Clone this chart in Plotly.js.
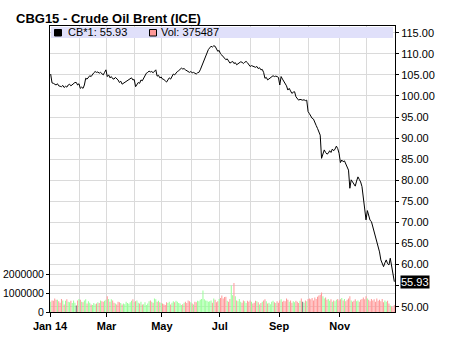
<!DOCTYPE html>
<html>
<head>
<meta charset="utf-8">
<script src="https://cdn.plot.ly/plotly-3.0.1.min.js"></script>
<style>html,body{margin:0;padding:0;background:#fff;}#chart{width:449px;height:337px;}</style>
</head>
<body>
<div id="chart"></div>
<script>
// Daily closes, CBG15 (Feb 2015 Brent), trading days of 2014, by month
const closeJan = [105.2,103.1,103.0,102.7,102.6,102.9,102.4,102.3,102.2,102.5,102.0,102.3,102.1,102.6,102.8,102.4,102.7,103.0,103.2,103.2,102.6,102.9];
const closeFeb = [101.8,102.1,101.8,102.6,104.2,104.0,104.5,104.8,104.6,105.2,105.5,105.8,105.6,105.7,105.4,105.6,105.3,105.0,105.6,106.2];
const closeMar = [104.6,105.0,104.3,104.6,104.1,104.0,104.4,104.2,103.8,103.2,103.5,102.8,103.0,103.2,103.4,103.6,103.9,104.0,104.3,103.8,103.9];
const closeApr = [102.2,102.8,103.2,103.0,103.8,103.6,104.2,105.0,105.4,105.6,105.9,105.7,105.8,105.5,105.9,106.2,104.7,104.9,104.3,104.5];
const closeMay = [104.0,103.9,103.6,103.3,103.8,104.3,104.0,104.6,105.2,105.0,105.5,105.8,106.0,106.3,106.6,106.4,106.5,106.2,106.0,105.9,105.6,105.8];
const closeJun = [105.5,105.6,105.4,105.2,105.5,105.6,106.2,107.0,108.2,108.9,109.4,110.2,111.0,111.4,111.8,111.6,111.9,111.8,111.2,110.6,110.8];
const closeJul = [110.0,109.7,109.4,109.0,108.6,108.8,108.3,107.8,108.0,108.2,107.7,107.9,107.4,107.6,107.8,108.1,108.0,107.7,108.0,108.2,107.9,107.5,107.0];
const closeAug = [107.2,107.1,107.0,106.8,107.0,106.5,106.7,106.2,106.3,105.6,104.2,104.4,103.8,104.0,104.3,104.5,104.8,104.6,104.7,104.6,104.4];
const closeSep = [102.6,104.6,104.0,103.5,103.0,102.4,101.4,101.8,101.2,100.6,100.9,101.0,99.8,99.5,99.0,99.2,99.0,99.0,99.1,98.9,99.0,96.3];
const closeOct = [95.8,95.2,94.7,94.5,93.9,93.0,92.3,91.5,90.7,85.2,86.0,87.2,86.6,86.2,86.4,87.0,86.6,87.4,87.0,87.4,88.1,87.5,86.4];
const closeNov = [84.2,84.8,84.4,84.6,83.8,83.2,82.4,78.1,80.1,79.6,79.2,78.6,79.8,80.8,80.2,79.6,78.5,76.0,74.5,70.6];
const closeDec = [72.8,71.6,70.5,70.2,69.0,67.8,67.0,65.8,64.6,63.0,61.1,60.2,59.5,60.4,61.1,60.2,59.9,61.5,59.5,57.9,55.93];

// Daily volume, in contracts
const volJan = [550000,620000,600000,720000,650000,660000,580000,500000,700000,620000,400000,600000,680000,550000,520000,600000,480000,620000,500000,350000,620000,700000];
const volFeb = [660000,550000,520000,620000,680000,450000,580000,500000,400000,380000,480000,420000,450000,520000,480000,620000,580000,550000,600000,660000];
const volMar = [850000,700000,550000,680000,620000,500000,450000,400000,550000,520000,480000,400000,450000,420000,550000,480000,440000,520000,600000,680000,520000];
const volApr = [580000,620000,500000,450000,550000,400000,420000,520000,380000,450000,580000,620000,550000,500000,720000,680000,550000,600000,520000,480000];
const volMay = [450000,420000,380000,520000,480000,550000,400000,500000,580000,520000,600000,550000,480000,450000,380000,420000,500000,550000,480000,620000,580000,520000];
const volJun = [450000,400000,550000,520000,600000,580000,650000,700000,1150000,680000,620000,600000,550000,580000,620000,500000,720000,650000,520000,580000,700000];
const volJul = [750000,880000,720000,800000,820000,600000,550000,700000,1420000,900000,1550000,850000,620000,580000,700000,550000,500000,620000,580000,480000,600000,550000,620000];
const volAug = [550000,450000,500000,600000,580000,520000,400000,480000,550000,620000,680000,580000,450000,500000,420000,550000,600000,520000,480000,580000,500000];
const volSep = [620000,680000,550000,600000,580000,720000,650000,550000,620000,500000,580000,520000,600000,550000,480000,600000,720000,550000,500000,620000,580000,700000];
const volOct = [720000,680000,750000,620000,780000,700000,820000,880000,920000,1050000,850000,720000,780000,650000,700000,600000,680000,550000,620000,580000,650000,700000,620000];
const volNov = [680000,750000,620000,700000,580000,650000,720000,850000,620000,550000,600000,680000,580000,620000,550000,650000,700000,780000,680000,850000];
const volDec = [720000,650000,580000,700000,620000,680000,550000,720000,600000,650000,580000,700000,520000,620000,550000,600000,450000,350000,300000,250000,375487];

const tickLabels = ['Jan 14','Mar','May','Jul','Sep','Nov'];
const holidays = ['2014-01-01','2014-04-18','2014-04-21','2014-12-25','2014-12-26'];

const closes = [].concat(closeJan,closeFeb,closeMar,closeApr,closeMay,closeJun,closeJul,closeAug,closeSep,closeOct,closeNov,closeDec);
const volumes = [].concat(volJan,volFeb,volMar,volApr,volMay,volJun,volJul,volAug,volSep,volOct,volNov,volDec);

// trading calendar
const days = [];
for (let d = new Date(Date.UTC(2014,0,1)); d.getUTCFullYear() === 2014; d.setUTCDate(d.getUTCDate()+1)) {
  const wd = d.getUTCDay();
  const iso = d.toISOString().slice(0,10);
  if (wd === 0 || wd === 6 || holidays.includes(iso)) continue;
  days.push(iso);
}
const N = closes.length;
const xs = closes.map((_, i) => i);
const monthStart = [];
days.forEach((iso, i) => { const m = +iso.slice(5,7) - 1; if (monthStart[m] === undefined) monthStart[m] = i; });
const majorVals = [0,2,4,6,8,10].map(m => monthStart[m] - 0.5);
const minorVals = [1,3,5,7,9,11].map(m => monthStart[m] - 0.5);

const barColors = closes.map((c, i) => {
  if (i === 0) return '#99ff99';
  if (c > closes[i-1]) return '#99ff99';
  if (c < closes[i-1]) return '#ff9999';
  return '#707070';
});

const priceTicks = [];
for (let v = 50; v <= 115; v += 5) priceTicks.push(v);
const priceText = priceTicks.map(v => v === 55 ? '' : v.toFixed(2));

const last = closes[N-1];
const lastVol = volumes[volumes.length-1];
const gc = '#dadada';
const ff = 'Liberation Sans, Arial, sans-serif';

const traces = [
  { type: 'bar', x: xs, y: volumes, marker: { color: barColors, line: { width: 0 } },
    xaxis: 'x', yaxis: 'y', hoverinfo: 'skip' },
  { type: 'scatter', mode: 'lines', x: xs, y: closes, line: { color: '#000', width: 1 },
    xaxis: 'x', yaxis: 'y2', hoverinfo: 'skip' }
];

const plotH = 337 - 26 - 25;
const plotW = 449 - 50 - 54;

const layout = {
  width: 449, height: 337,
  margin: { l: 50, r: 54, t: 26, b: 25, pad: 0 },
  paper_bgcolor: '#fff', plot_bgcolor: '#fff',
  showlegend: false,
  bargap: 0.25,
  font: { family: ff, size: 11, color: '#000' },
  title: { text: '<b>CBG15 - Crude Oil Brent (ICE)</b>', font: { family: ff, size: 13, color: '#000' },
    xref: 'container', yref: 'container', x: 16/449, xanchor: 'left', y: 1 - 18.5/337, yanchor: 'middle' },
  xaxis: {
    range: [-0.5, N - 0.5], tickmode: 'array', tickvals: majorVals, ticktext: tickLabels,
    ticks: 'outside', ticklen: 4, tickcolor: '#000', showline: true, linecolor: '#000', linewidth: 1, mirror: true,
    showgrid: true, gridcolor: gc, zeroline: false,
    tickfont: { family: ff, size: 11, color: '#000', weight: 'bold' },
    minor: { tickmode: 'array', tickvals: minorVals, showgrid: true, gridcolor: gc, ticks: '' }
  },
  yaxis: {
    range: [0, plotH / 18.67 * 1e6], tickmode: 'array', tickvals: [0, 1000000, 2000000],
    ticktext: ['0', '1000000', '2000000'], ticks: 'outside', ticklen: 3, tickcolor: '#000',
    showline: true, linecolor: '#000', linewidth: 1, showgrid: true, gridcolor: gc, zeroline: false,
    tickfont: { family: ff, size: 10.5, color: '#000' }
  },
  yaxis2: {
    overlaying: 'y', side: 'right', range: [48.74, 116.6], tickmode: 'array', tickvals: priceTicks, ticktext: priceText,
    ticks: 'outside', ticklen: 3, tickcolor: '#000', showline: true, linecolor: '#000', linewidth: 1,
    showgrid: true, gridcolor: gc, zeroline: false,
    tickfont: { family: ff, size: 11, color: '#000' }
  },
  shapes: [
    { type: 'rect', xref: 'paper', yref: 'paper', x0: 1/plotW, x1: 1 - 2/plotW, y0: 1 - 12/plotH, y1: 1 - 1/plotH,
      fillcolor: '#e0e0fa', line: { width: 0 }, layer: 'above' },
    { type: 'rect', xref: 'paper', yref: 'paper', x0: 4.5/plotW, x1: 11.5/plotW, y0: 1 - 10/plotH, y1: 1 - 3.5/plotH,
      fillcolor: '#000', line: { color: '#000', width: 1 }, layer: 'above' },
    { type: 'rect', xref: 'paper', yref: 'paper', x0: 99.5/plotW, x1: 106.5/plotW, y0: 1 - 10/plotH, y1: 1 - 3.5/plotH,
      fillcolor: '#ff9999', line: { color: '#000', width: 1 }, layer: 'above' }
  ],
  annotations: [
    { xref: 'paper', yref: 'paper', x: 16/plotW, y: 1 - 6.5/plotH, xanchor: 'left', yanchor: 'middle',
      text: 'CB*1: ' + last.toFixed(2), showarrow: false, font: { family: ff, size: 11, color: '#000' } },
    { xref: 'paper', yref: 'paper', x: 109/plotW, y: 1 - 6.5/plotH, xanchor: 'left', yanchor: 'middle',
      text: 'Vol: ' + lastVol, showarrow: false, font: { family: ff, size: 11, color: '#000' } },
    { xref: 'paper', yref: 'y2', x: 1, y: last, xanchor: 'left', yanchor: 'middle', xshift: 5,
      text: last.toFixed(2), showarrow: false, bgcolor: '#000', borderpad: 0,
      font: { family: ff, size: 11, color: '#fff' } }
  ]
};

Plotly.newPlot('chart', traces, layout, { staticPlot: true, displayModeBar: false });
</script>
</body>
</html>
